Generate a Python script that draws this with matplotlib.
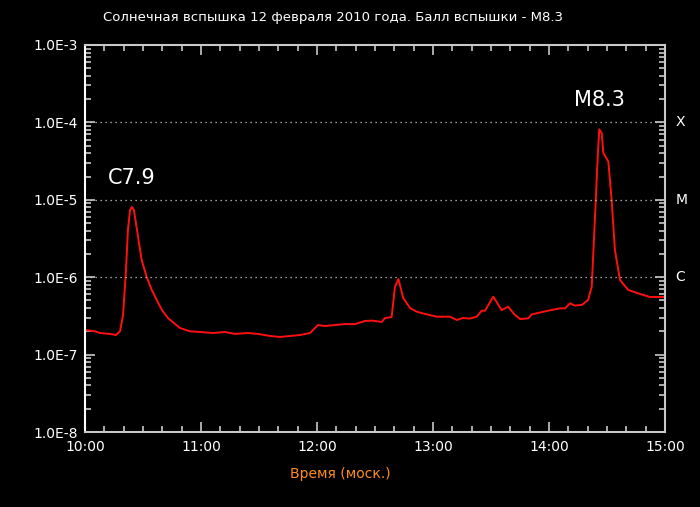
import matplotlib
matplotlib.use("Agg")
import matplotlib.pyplot as plt
from matplotlib.ticker import LogLocator, FixedLocator, NullFormatter
import matplotlib.transforms as mtransforms

# minutes after 10:00 (Moscow time)
minutes = [0, 5.2, 7.8, 12.9, 16.0, 18.1, 19.7, 21.2, 22.2, 23.3, 24.3, 25.3, 26.9,
           29.3, 31.9, 34.1, 37.1, 39.8, 42.9, 46.6, 49.1, 54.3, 59.5, 66.2, 72.4,
           77.6, 84.3, 89.5, 95.7, 100.9, 106.0, 111.2, 116.4, 120.5, 124.1, 129.3,
           134.5, 139.7, 144.8, 148.4, 153.5, 155.2, 158.6, 160.3, 162.1, 164.6,
           168.1, 171.6, 175.9, 181.9, 188.8, 192.3, 195.5, 199.1, 202.6, 205.2,
           206.9, 211.2, 215.5, 218.9, 221.9, 225.0, 229.3, 231.0, 238.8, 245.7,
           248.3, 250.9, 253.4, 257.1, 260.2, 262.1, 263.8, 265.2, 266.0, 267.3,
           268.1, 270.7, 272.4, 274.1, 276.7, 281.0, 287.1, 292.2, 300]
# X-ray flux, W/m^2
flux = [2.08e-7, 2.0e-7, 1.90e-7, 1.85e-7, 1.79e-7, 2.0e-7, 3.25e-7, 1.24e-6, 4.07e-6,
        7.38e-6, 8.07e-6, 7.38e-6, 4.07e-6, 1.67e-6, 1.01e-6, 7.25e-7, 5.07e-7,
        3.77e-7, 2.97e-7, 2.48e-7, 2.21e-7, 2.0e-7, 1.96e-7, 1.90e-7, 1.96e-7,
        1.85e-7, 1.90e-7, 1.85e-7, 1.74e-7, 1.69e-7, 1.74e-7, 1.79e-7, 1.90e-7,
        2.41e-7, 2.34e-7, 2.41e-7, 2.48e-7, 2.48e-7, 2.72e-7, 2.75e-7, 2.64e-7,
        2.97e-7, 3.05e-7, 7.45e-7, 9.48e-7, 5.38e-7, 4.00e-7, 3.58e-7, 3.35e-7,
        3.09e-7, 3.09e-7, 2.80e-7, 2.97e-7, 2.92e-7, 3.09e-7, 3.69e-7, 3.69e-7,
        5.60e-7, 3.76e-7, 4.16e-7, 3.35e-7, 2.88e-7, 2.94e-7, 3.30e-7, 3.66e-7,
        3.96e-7, 3.96e-7, 4.60e-7, 4.3e-7, 4.4e-7, 5.07e-7, 7.53e-7, 6.05e-6,
        3.61e-5, 8.15e-5, 7.23e-5, 4.03e-5, 3.11e-5, 9.93e-6, 2.25e-6, 9.20e-7,
        6.84e-7, 6.07e-7, 5.55e-7, 5.55e-7]

time_ticks = [0, 60, 120, 180, 240, 300]
time_labels = ['10:00', '11:00', '12:00', '13:00', '14:00', '15:00']
y_ticks = [1e-8, 1e-7, 1e-6, 1e-5, 1e-4, 1e-3]
y_labels = ['1.0E-8', '1.0E-7', '1.0E-6', '1.0E-5', '1.0E-4', '1.0E-3']
classes = ['C', 'M', 'X']
class_levels = [1e-6, 1e-5, 1e-4]
flares = [('C7.9', 24.3, 8.07e-6), ('M8.3', 266.0, 8.15e-5)]

fig = plt.figure(figsize=(7, 5.07), dpi=100, facecolor='black')
ax = fig.add_axes([85/700, 75/507, 580/700, 387/507], facecolor='black')

ax.plot(minutes, flux, color='#ff1010', lw=1.4)
ax.set_yscale('log')
ax.set_xlim(0, 300)
ax.set_ylim(1e-8, 1e-3)

for lev in class_levels:
    ax.axhline(lev, color='#d0d0d0', lw=0.9, ls=(0, (1, 3)))

gray = '#c8c8c8'
for s in ax.spines.values():
    s.set_color(gray)
    s.set_linewidth(1.5)
ax.spines['left'].set_color('white')

ax.set_xticks(time_ticks)
ax.set_xticklabels(time_labels)
ax.xaxis.set_minor_locator(FixedLocator(range(0, 301, 10)))
ax.set_yticks(y_ticks)
ax.set_yticklabels(y_labels)
ax.yaxis.set_minor_locator(LogLocator(base=10, subs=range(2, 10)))
ax.yaxis.set_minor_formatter(NullFormatter())

ax.tick_params(which='both', direction='in', colors=gray, top=True, right=True,
               labelcolor='white', labelsize=10)
ax.tick_params(which='major', length=7, width=1.2)
ax.tick_params(which='minor', length=4, width=1.2)
ax.tick_params(axis='x', pad=6)
ax.tick_params(axis='y', pad=5)

trans = mtransforms.blended_transform_factory(ax.transAxes, ax.transData)
for name, lev in zip(classes, class_levels):
    ax.text(1.018, lev, name, transform=trans, color='white', fontsize=10,
            ha='left', va='center')

for name, t, f in flares:
    ax.text(t, f * 2.4, name, color='white', fontsize=15, ha='center', va='center')

fig.text(333/700, 1 - 18/507, 'Солнечная вспышка 12 февраля 2010 года. Балл вспышки - M8.3',
         color='white', fontsize=9.5, ha='center', va='center')
fig.text(340/700, 1 - 474/507, 'Время (моск.)', color='#ff8c1a', fontsize=10,
         ha='center', va='center')

fig.savefig('out.png', dpi=100, facecolor='black')
